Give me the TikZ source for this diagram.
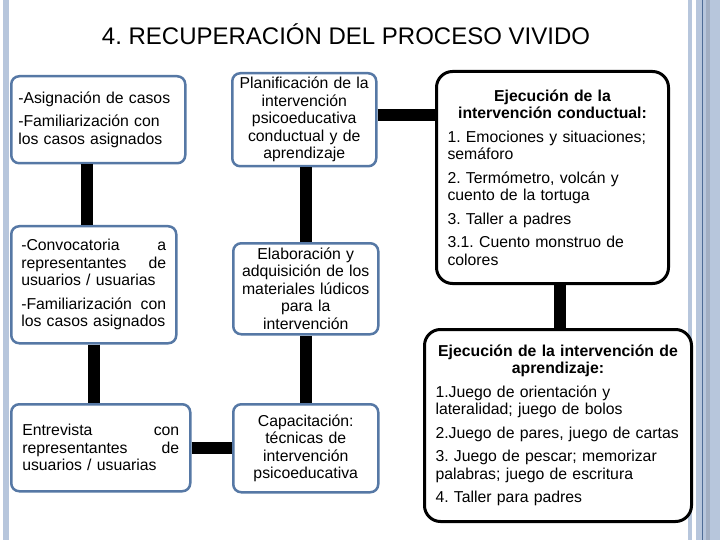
\documentclass[tikz,border=0pt]{standalone}
\usepackage{fontspec}
\setmainfont{Liberation Sans}
\usepackage{tikz}
\setlength{\parindent}{0pt}
\frenchspacing

\definecolor{cajaazul}{RGB}{86,120,165}
\definecolor{franja}{RGB}{183,198,220}
\definecolor{franjaosc}{RGB}{78,108,150}

\begin{document}
\begin{tikzpicture}[x=1pt,y=-1pt,
    caja/.style={draw=cajaazul,line width=2.5pt,rounded corners=8pt,fill=white,
      anchor=north west,inner xsep=7pt,inner ysep=2pt,
      font=\fontsize{15.8}{17.5}\selectfont},
    cajanegra/.style={draw=black,line width=3pt,rounded corners=16pt,fill=white,
      anchor=north west,inner xsep=11pt,inner ysep=2pt,align=left,
      font=\fontsize{15.8}{17.5}\selectfont},
    barra/.style={line width=12pt,black}]
  \fill[white] (0,0) rectangle (720,540);
  \useasboundingbox (0,0) rectangle (720,540);
  % franjas laterales
  \fill[franja] (3,0) rectangle (9,540);
  \fill[franja] (688,0) rectangle (692,540);
  \fill[franja] (696,0) rectangle (720,540);
  \fill[franja!88!black] (706,0) rectangle (710,540);
  \draw[franjaosc,line width=1pt] (702.5,0) -- (702.5,540);

  \node[font=\fontsize{24}{28}\selectfont,anchor=base] (titulo) at (346,45)
    {4. RECUPERACIÓN DEL PROCESO VIVIDO};

  % columna izquierda
  \node[caja,align=left,minimum width=174pt,minimum height=87pt,text width=160pt]
    (casos) at (10,75)
    {-Asignación de casos\\[6pt]-Familiarización con\\los casos asignados};
  \node[caja,align=left,minimum width=165pt,minimum height=117pt,text width=145pt]
    (convoc) at (10,225)
    {-Convocatoria\hfill a\\representantes\hfill de\\usuarios / usuarias\\[6pt]%
     -Familiarización\hfill con\\los casos asignados};
  \node[caja,align=left,minimum width=179pt,minimum height=87pt,text width=157pt]
    (entrev) at (10,403)
    {Entrevista\hfill con\\representantes\hfill de\\usuarios / usuarias};

  % columna central
  \node[caja,align=center,minimum width=144pt,minimum height=93pt,text width=130pt]
    (planif) at (231,72)
    {Planificación de la\\intervención\\psicoeducativa\\conductual y de\\aprendizaje};
  \node[caja,align=center,minimum width=145pt,minimum height=91pt,text width=131pt]
    (elab) at (232,242)
    {Elaboración y\\adquisición de los\\materiales lúdicos\\para la\\intervención};
  \node[caja,align=center,minimum width=145pt,minimum height=88pt,text width=131pt]
    (capac) at (232,403)
    {Capacitación:\\técnicas de\\intervención\\psicoeducativa};

  % columna derecha
  \node[cajanegra,minimum width=232pt,minimum height=212pt,text width=210pt]
    (conduc) at (435,70)
    {{\centering\bfseries Ejecución de la\\intervención conductual:\par}\vspace{6pt}%
     1. Emociones y situaciones;\\semáforo\\[6pt]
     2. Termómetro, volcán y\\cuento de la tortuga\\[6pt]
     3. Taller a padres\\[6pt]
     3.1. Cuento monstruo de\\colores};
  \node[cajanegra,minimum width=267pt,minimum height=192pt,text width=245pt]
    (aprend) at (423,328)
    {{\centering\bfseries Ejecución de la intervención de\\aprendizaje:\par}\vspace{6pt}%
     1.Juego de orientación y\\lateralidad; juego de bolos\\[6pt]
     2.Juego de pares, juego de cartas\\[6pt]
     3. Juego de pescar; memorizar\\palabras; juego de escritura\\[6pt]
     4. Taller para padres};

  % conectores
  \coordinate (c1) at ([xshift=-11pt]casos.south);
  \coordinate (c2) at ([yshift=5pt]planif.east);
  \coordinate (c3) at ([xshift=7pt]conduc.south);
  \draw[barra] (c1) -- (c1 |- convoc.north);
  \draw[barra] (convoc.south) -- (convoc.south |- entrev.north);
  \draw[barra] (entrev.east) -- (entrev.east -| capac.west);
  \draw[barra] (capac.north) -- (elab.south);
  \draw[barra] (elab.north) -- (elab.north |- planif.south);
  \draw[barra] (c2) -- (c2 -| conduc.west);
  \draw[barra] (c3) -- (c3 |- aprend.north);
\end{tikzpicture}
\end{document}
